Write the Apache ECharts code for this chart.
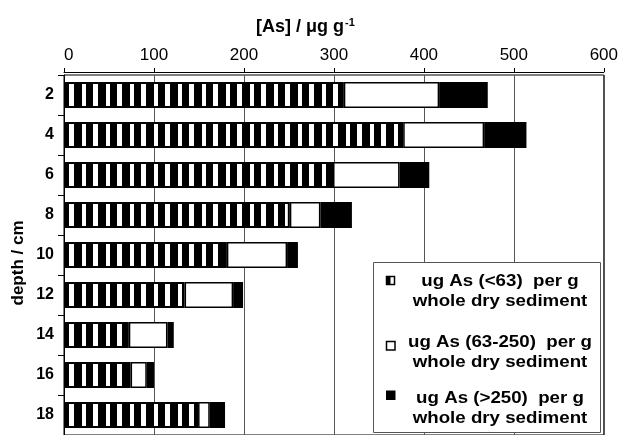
<!DOCTYPE html>
<html>
<head>
<meta charset="utf-8">
<script src="https://cdn.jsdelivr.net/npm/echarts@6/dist/echarts.min.js"></script>
<style>html,body{margin:0;padding:0;background:#fff}#c{width:621px;height:435px}</style>
</head>
<body>
<div id="c"></div>
<script>
const depths = ['2', '4', '6', '8', '10', '12', '14', '16', '18'];
const fineAs = [311, 377, 299, 251, 181, 134, 72, 74, 149];      // <63
const mediumAs = [106, 90, 74, 34, 67, 54, 43, 18, 13];          // 63-250
const coarseAs = [54, 47, 33, 35, 12, 11, 7, 8, 17];             // >250
const legendNames = ['ug As (<63)  per g', 'ug As (63-250)  per g', 'ug As (>250)  per g'];

const FONT = '"Liberation Sans", Arial, sans-serif';

// vertical stripe pattern: black 7-8 px, white 4-5 px
const pc = document.createElement('canvas');
pc.width = 24; pc.height = 4;
const pctx = pc.getContext('2d');
pctx.fillStyle = '#fff'; pctx.fillRect(0, 0, 24, 4);
pctx.fillStyle = '#000';
pctx.fillRect(2, 0, 8, 4);
pctx.fillRect(14, 0, 7, 4);

const chart = echarts.init(document.getElementById('c'), null, {renderer: 'canvas'});

function legendItem(y, iconEls, name) {
  return [].concat(iconEls, [{
    type: 'text', z: 101, x: 500, y: y, scaleX: 1.1,
    style: {
      x: 0, y: 0, text: name + '\nwhole dry sediment',
      font: 'bold 17px ' + FONT, fill: '#000',
      textAlign: 'center', textVerticalAlign: 'middle', lineHeight: 20
    }
  }]);
}

const option = {
  animation: false,
  backgroundColor: '#fff',
  grid: {left: 64, right: 17, top: 75, bottom: -4, show: true, borderColor: '#000', borderWidth: 1, containLabel: false},
  title: {
    text: '{a|[As] / μg g}{s|-1}',
    left: 251, top: 12,
    textStyle: {
      rich: {
        a: {fontFamily: FONT, fontWeight: 'bold', fontSize: 18, color: '#000'},
        s: {fontFamily: FONT, fontWeight: 'bold', fontSize: 11, color: '#000', padding: [0, 0, 10, 1]}
      }
    }
  },
  xAxis: {
    type: 'value', position: 'top', min: 0, max: 600, interval: 100, offset: 3,
    axisLine: {show: true, lineStyle: {color: '#000', width: 1}},
    axisTick: {show: true, length: 4, lineStyle: {color: '#000'}},
    axisLabel: {margin: 8, fontFamily: FONT, fontSize: 17, color: '#000', alignMinLabel: 'left'},
    splitLine: {show: true, lineStyle: {color: '#555', width: 1}}
  },
  yAxis: {
    type: 'category', data: depths, inverse: true,
    axisLine: {show: true, lineStyle: {color: '#000', width: 1}},
    axisTick: {show: true, length: 6, lineStyle: {color: '#000'}},
    axisLabel: {margin: 10, fontFamily: FONT, fontSize: 16, fontWeight: 'bold', color: '#000'},
    splitLine: {show: false}
  },
  series: [
    {name: legendNames[0], type: 'bar', stack: 'as', data: fineAs, barWidth: 26,
     itemStyle: {color: {image: pc, repeat: 'repeat'}, borderColor: '#000', borderWidth: 2}},
    {name: legendNames[1], type: 'bar', stack: 'as', data: mediumAs, barWidth: 26,
     itemStyle: {color: '#fff', borderColor: '#000', borderWidth: 1.5}},
    {name: legendNames[2], type: 'bar', stack: 'as', data: coarseAs, barWidth: 26,
     itemStyle: {color: '#000', borderColor: '#000', borderWidth: 1.5}}
  ],
  graphic: [
    {type: 'text', z: 100, x: 18, y: 263, rotation: Math.PI / 2,
     style: {text: 'depth / cm', font: 'bold 17px ' + FONT, fill: '#000', textAlign: 'center', textVerticalAlign: 'middle'}},
    {type: 'rect', z: 100, shape: {x: 373.5, y: 262.5, width: 227, height: 170},
     style: {fill: '#fff', stroke: '#555', lineWidth: 1}}
  ].concat(
    legendItem(291.5, [
      {type: 'rect', z: 101, shape: {x: 386.5, y: 276.5, width: 8, height: 8}, style: {fill: '#fff', stroke: '#000', lineWidth: 1.5}},
      {type: 'rect', z: 102, shape: {x: 386.5, y: 276.5, width: 4, height: 8}, style: {fill: '#000'}}
    ], legendNames[0]),
    legendItem(352, [
      {type: 'rect', z: 101, shape: {x: 386.5, y: 341.5, width: 8.5, height: 8.5}, style: {fill: '#fff', stroke: '#000', lineWidth: 1.5}}
    ], legendNames[1]),
    legendItem(408.5, [
      {type: 'rect', z: 101, shape: {x: 386, y: 390.5, width: 9.5, height: 9.5}, style: {fill: '#000'}}
    ], legendNames[2])
  )
};
chart.setOption(option);
</script>
</body>
</html>
